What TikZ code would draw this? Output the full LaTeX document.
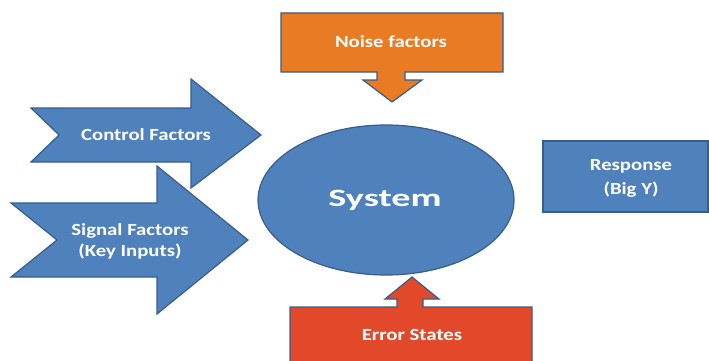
\documentclass[tikz,border=0pt]{standalone}
\usepackage{fontspec}
\setmainfont{Carlito}
\usetikzlibrary{positioning,calc}
\definecolor{sysblue}{HTML}{4F81BD}
\definecolor{edgeblue}{HTML}{385D8A}
\definecolor{noiseorange}{HTML}{E87B24}
\definecolor{errorred}{HTML}{E2492A}
\tikzset{
  shapefill/.style={draw=edgeblue, line width=1.2pt, line join=miter},
  lbl/.style={text=white, xscale=1.22, font=\bfseries\fontsize{17}{21}\selectfont, align=center}
}

\begin{document}
\begin{tikzpicture}[x=1pt, y=-1pt]
        \useasboundingbox (0,0) rectangle (709,361);

        % Input arrows on the left
        \draw [shapefill, fill=sysblue] (31,108) -- (191,108) -- (191,79) -- (261,135)
            -- (191,188) -- (191,162) -- (31,162) -- (59,135) -- cycle;
        \draw [shapefill, fill=sysblue] (11,203) -- (157,203) -- (157,166) -- (248,240)
            -- (157,314) -- (157,277) -- (11,277) -- (57,240) -- cycle;

        % Noise box with arrow down
        \draw [shapefill, fill=noiseorange] (281,13) -- (503,13) -- (503,72)
            -- (405,72) -- (405,80) -- (422,80) -- (392,102) -- (363,80)
            -- (377,80) -- (377,72) -- (281,72) -- cycle;

        % Error box with arrow up
        \draw [shapefill, fill=errorred] (290,370) -- (290,307) -- (397,307)
            -- (397,299) -- (385,299) -- (412,277) -- (439,299) -- (423,299)
            -- (423,307) -- (532,307) -- (532,370);

        % The system and its response
        \draw [shapefill, fill=sysblue] (386,200) ellipse [x radius=128, y radius=75];
        \draw [shapefill, fill=sysblue] (543,141) rectangle (708,212);

        \node [lbl] (control) at (146,135) {Control Factors};
        \node [lbl] (signal) at (130,241) {Signal Factors\\(Key Inputs)};
        \node [lbl] (noise) at (391,42) {Noise factors};
        \node [lbl] (error) at (412,335) {Error States};
        \node [lbl, font=\bfseries\fontsize{17}{24}\selectfont] (response) at (631,178) {Response\\(Big Y)};
        \node [lbl, xscale=1.25, font=\bfseries\fontsize{25}{30}\selectfont] (system) at (385,200) {System};

\end{tikzpicture}
\end{document}
